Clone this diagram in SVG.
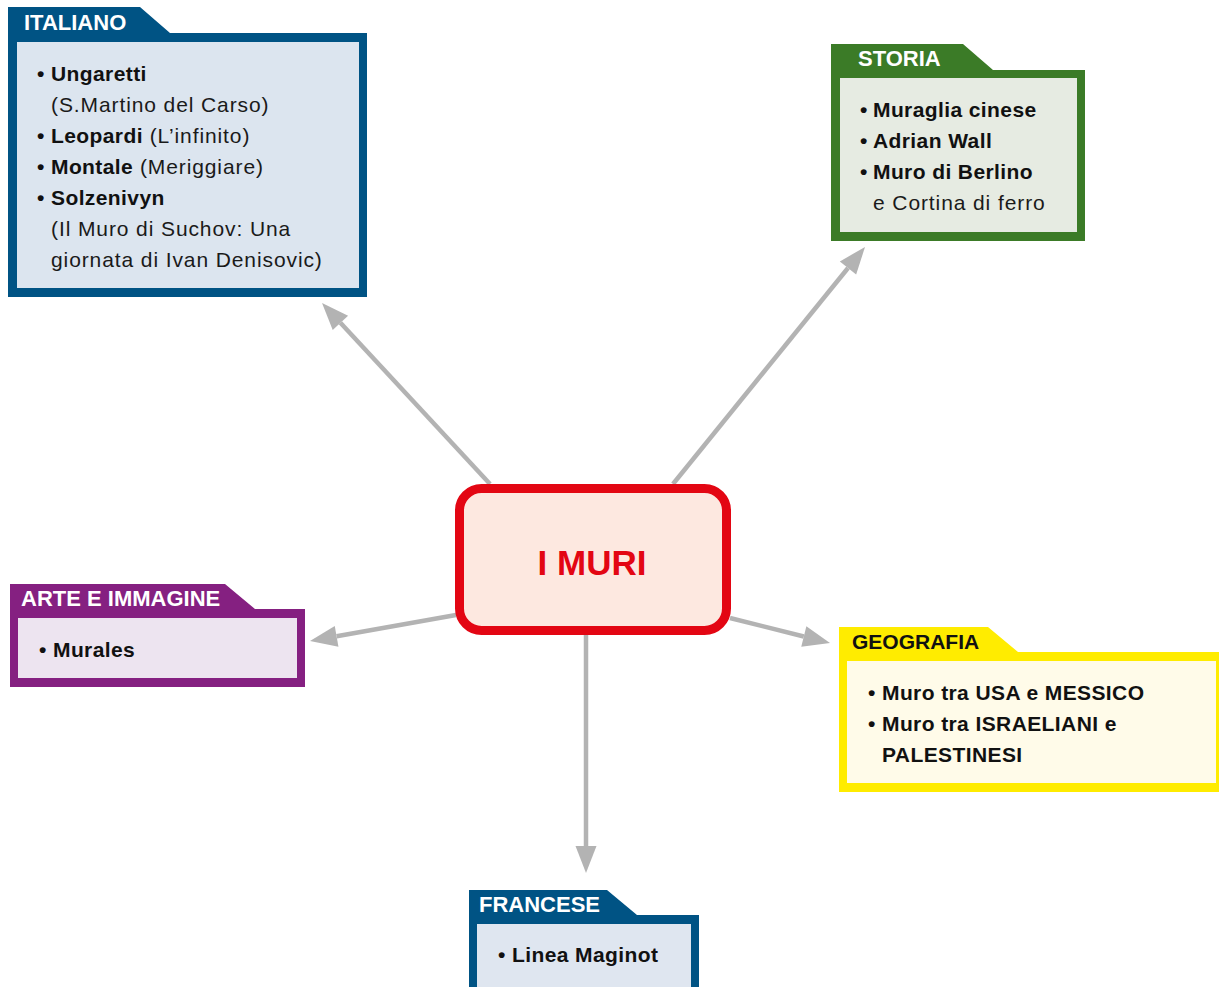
<svg xmlns="http://www.w3.org/2000/svg" width="1219" height="987" viewBox="0 0 1219 987">
<style>
text{font-family:"Liberation Sans",Arial,sans-serif;}
.hd{font-size:22px;font-weight:bold;fill:#ffffff;}
.hdk{font-size:21px;font-weight:bold;fill:#111111;}
.t{font-size:21px;fill:#1a1a1a;letter-spacing:0.9px;}
.tb{font-size:21px;fill:#111111;font-weight:bold;letter-spacing:0.4px;}
.conn{stroke:#b3b3b3;stroke-width:4.5;fill:none;}
</style>
<defs>
<marker id="ah" markerUnits="userSpaceOnUse" markerWidth="30" markerHeight="24" viewBox="0 -12 30 24" refX="0" refY="0" orient="auto" overflow="visible">
<path d="M0,-10.5 L27,0 L0,10.5 Z" fill="#b3b3b3"/>
</marker>
</defs>
<rect width="1219" height="987" fill="#ffffff"/>

<g id="connectors">
<line class="conn" x1="490" y1="484" x2="340.4" y2="322.8" marker-end="url(#ah)"/>
<line class="conn" x1="673" y1="484" x2="848" y2="268" marker-end="url(#ah)"/>
<line class="conn" x1="456" y1="615" x2="336.6" y2="636.3" marker-end="url(#ah)"/>
<line class="conn" x1="730" y1="618" x2="803.8" y2="636.5" marker-end="url(#ah)"/>
<line class="conn" x1="586" y1="635" x2="586" y2="846" marker-end="url(#ah)"/>
</g>

<g id="italiano">
<path d="M8,7 L140,7 L170,33 L367,33 L367,297 L8,297 Z" fill="#005384"/>
<rect x="17" y="42" width="342" height="246" fill="#dce5ef"/>
<text class="hd" x="24" y="30">ITALIANO</text>
<text class="tb" x="37" y="81">•</text><text class="tb" x="51" y="81">Ungaretti</text>
<text class="t" x="51" y="112">(S.Martino del Carso)</text>
<text class="tb" x="37" y="143">•</text><text x="51" y="143"><tspan class="tb">Leopardi</tspan><tspan class="t"> (L’infinito)</tspan></text>
<text class="tb" x="37" y="174">•</text><text x="51" y="174"><tspan class="tb">Montale</tspan><tspan class="t"> (Meriggiare)</tspan></text>
<text class="tb" x="37" y="205">•</text><text class="tb" x="51" y="205">Solzenivyn</text>
<text class="t" x="51" y="236">(Il Muro di Suchov: Una</text>
<text class="t" x="51" y="267">giornata di Ivan Denisovic)</text>
</g>

<g id="storia">
<path d="M831,44 L963,44 L993,70 L1085,70 L1085,241 L831,241 Z" fill="#3b7b27"/>
<rect x="840" y="78" width="237" height="154" fill="#e6ebe2"/>
<text class="hd" x="858" y="66">STORIA</text>
<text class="tb" x="860" y="117">•</text><text class="tb" x="873" y="117">Muraglia cinese</text>
<text class="tb" x="860" y="148">•</text><text class="tb" x="873" y="148">Adrian Wall</text>
<text class="tb" x="860" y="179">•</text><text class="tb" x="873" y="179">Muro di Berlino</text>
<text class="t" x="873" y="210">e Cortina di ferro</text>
</g>

<g id="arte">
<path d="M10,584 L225,584 L255,609 L305,609 L305,687 L10,687 Z" fill="#852081"/>
<rect x="18" y="618" width="279" height="60" fill="#ede4f0"/>
<text class="hd" x="21" y="606">ARTE E IMMAGINE</text>
<text class="tb" x="39" y="657">•</text><text class="tb" x="53" y="657">Murales</text>
</g>

<g id="geografia">
<path d="M839,627 L988,627 L1018,652 L1219,652 L1219,792 L839,792 Z" fill="#ffec00"/>
<rect x="847" y="661" width="369" height="122" fill="#fffbe9"/>
<text class="hdk" x="852" y="649">GEOGRAFIA</text>
<text class="tb" x="868" y="700">•</text><text class="tb" x="882" y="700">Muro tra USA e MESSICO</text>
<text class="tb" x="868" y="731">•</text><text class="tb" x="882" y="731">Muro tra ISRAELIANI e</text>
<text class="tb" x="882" y="762">PALESTINESI</text>
</g>

<g id="francese">
<path d="M469,890 L607,890 L637,915 L699,915 L699,995 L469,995 Z" fill="#005384"/>
<rect x="477" y="924" width="214" height="71" fill="#dfe6f0"/>
<text class="hd" x="479" y="912">FRANCESE</text>
<text class="tb" x="498" y="962">•</text><text class="tb" x="512" y="962">Linea Maginot</text>
</g>

<g id="center">
<rect x="459.5" y="488.5" width="267" height="142" rx="22" ry="22" fill="#fde8e0" stroke="#e30613" stroke-width="9"/>
<text x="592" y="575" text-anchor="middle" style="font-size:35px;font-weight:bold;fill:#e30613;">I MURI</text>
</g>
</svg>
